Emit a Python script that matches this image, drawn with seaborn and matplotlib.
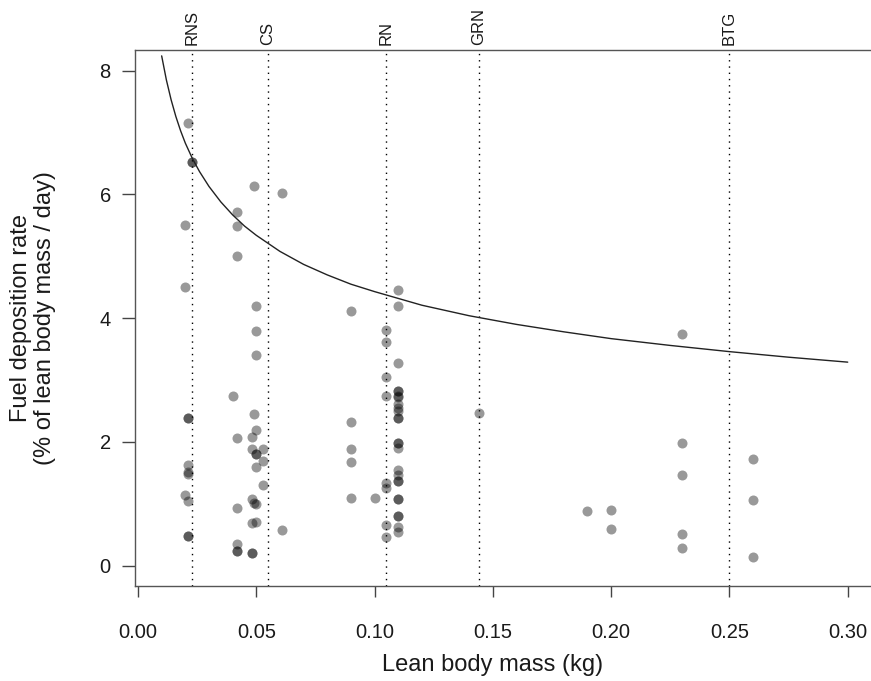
import matplotlib
matplotlib.use("Agg")
import matplotlib.pyplot as plt
import matplotlib.transforms as mtransforms
import seaborn as sns
import pandas as pd

# ---- data ----
mass = [
    # RNS group
    0.021, 0.023, 0.023, 0.020, 0.020, 0.021, 0.021, 0.021, 0.021, 0.021, 0.020, 0.021, 0.021, 0.021,
    # CS group
    0.049, 0.061, 0.042, 0.042, 0.042, 0.050, 0.050, 0.050, 0.040, 0.049, 0.050, 0.042, 0.048, 0.048,
    0.053, 0.050, 0.050, 0.053, 0.050, 0.053, 0.042, 0.048, 0.049, 0.050, 0.048, 0.050, 0.061, 0.042,
    0.042, 0.042, 0.048, 0.048,
    # RN group
    0.090, 0.090, 0.090, 0.090, 0.090, 0.100,
    0.105, 0.105, 0.105, 0.105, 0.105, 0.105, 0.105, 0.105,
    0.110, 0.110, 0.110, 0.110, 0.110, 0.110, 0.110, 0.110, 0.110, 0.110, 0.110, 0.110, 0.110,
    0.110, 0.110, 0.110, 0.110, 0.110, 0.110, 0.110, 0.110, 0.110, 0.110, 0.110, 0.110,
    # larger birds
    0.144, 0.190, 0.200, 0.200, 0.230, 0.230, 0.230, 0.230, 0.230, 0.260, 0.260, 0.260,
]
rate = [
    7.15, 6.53, 6.53, 5.51, 4.50, 2.38, 2.38, 1.62, 1.52, 1.49, 1.15, 1.05, 0.48, 0.48,
    6.13, 6.03, 5.72, 5.49, 5.00, 4.20, 3.80, 3.40, 2.75, 2.45, 2.20, 2.07, 2.08, 1.88,
    1.89, 1.80, 1.80, 1.70, 1.60, 1.31, 0.94, 1.08, 1.01, 1.00, 0.69, 0.71, 0.57, 0.35,
    0.23, 0.23, 0.20, 0.20,
    4.11, 2.33, 1.89, 1.67, 1.10, 1.10,
    3.81, 3.62, 3.05, 2.75, 1.33, 1.25, 0.66, 0.47,
    4.45, 4.19, 3.27, 2.82, 2.82, 2.74, 2.72, 2.62, 2.55, 2.50, 2.38, 2.38, 1.99,
    1.99, 1.91, 1.55, 1.47, 1.37, 1.37, 1.08, 1.08, 0.81, 0.81, 0.63, 0.54,
    2.47, 0.88, 0.90, 0.59, 3.75, 1.99, 1.46, 0.51, 0.29, 1.72, 1.07, 0.14,
]

curve_x = [0.010, 0.012, 0.014, 0.016, 0.018, 0.020, 0.023, 0.026, 0.030, 0.035, 0.040,
           0.045, 0.050, 0.060, 0.070, 0.080, 0.090, 0.100, 0.120, 0.140, 0.160, 0.180,
           0.200, 0.225, 0.250, 0.275, 0.300]
curve_y = [8.24, 7.85, 7.53, 7.26, 7.03, 6.83, 6.58, 6.37, 6.13, 5.88, 5.67,
           5.49, 5.34, 5.08, 4.87, 4.70, 4.55, 4.43, 4.21, 4.04, 3.90, 3.78,
           3.67, 3.56, 3.46, 3.37, 3.29]

ref_x = [0.023, 0.055, 0.105, 0.144, 0.250]
ref_labels = ["RNS", "CS", "RN", "GRN", "BTG"]

x_ticks = [0.00, 0.05, 0.10, 0.15, 0.20, 0.25, 0.30]
x_tick_labels = ["0.00", "0.05", "0.10", "0.15", "0.20", "0.25", "0.30"]
y_ticks = [0, 2, 4, 6, 8]
y_tick_labels = ["0", "2", "4", "6", "8"]

# ---- style ----
sns.set_style("white")
plt.rcParams["font.family"] = ["Liberation Sans", "DejaVu Sans"]

W, H = 871, 681
fig = plt.figure(figsize=(W / 100, H / 100), dpi=100)
ax_left, ax_right, ax_top, ax_bottom = 135, 900, 50, 586
ax = fig.add_axes([ax_left / W, 1 - ax_bottom / H, (ax_right - ax_left) / W, (ax_bottom - ax_top) / H])

df = pd.DataFrame({"mass": mass, "rate": rate})
sns.scatterplot(data=df, x="mass", y="rate", color="black", alpha=0.4, s=52,
                linewidth=0, ax=ax, zorder=3)

cdf = pd.DataFrame({"x": curve_x, "y": curve_y})
sns.lineplot(data=cdf, x="x", y="y", color="#222222", lw=1.0, ax=ax,
             estimator=None, sort=False, zorder=4)

for xv in ref_x:
    ax.axvline(xv, color="black", lw=1.0, ls=(0, (1, 3.5)), zorder=2)

trans = mtransforms.blended_transform_factory(ax.transData, ax.transAxes)
for xv, lab in zip(ref_x, ref_labels):
    ax.text(xv, 1.01, lab, transform=trans, rotation=90, ha="center", va="bottom",
            fontsize=12, color="#1a1a1a")

ax.set_xlim(-0.00127, 0.3221)
ax.set_ylim(-0.328, 8.335)
ax.set_xticks(x_ticks)
ax.set_xticklabels(x_tick_labels)
ax.set_yticks(y_ticks)
ax.set_yticklabels(y_tick_labels)
ax.tick_params(axis="x", direction="out", length=8, width=1, pad=19, labelsize=14.5,
               color="#444444", labelcolor="#1a1a1a", bottom=True)
ax.tick_params(axis="y", direction="out", length=9.4, width=1, pad=8, labelsize=14.5,
               color="#444444", labelcolor="#1a1a1a", left=True)

for sp in ax.spines.values():
    sp.set_visible(True)
    sp.set_color("#555555")
    sp.set_linewidth(1.0)

ax.set_xlabel("Lean body mass (kg)", fontsize=17, color="#1a1a1a")
ax.xaxis.label.set_va("center")
ax.xaxis.set_label_coords((493 - ax_left) / (ax_right - ax_left), -(665 - ax_bottom) / (ax_bottom - ax_top))
ax.set_ylabel("Fuel deposition rate\n(% of lean body mass / day)", fontsize=17,
              color="#1a1a1a", linespacing=1.1)
ax.yaxis.label.set_va("center")
ax.yaxis.set_label_coords((33 - ax_left) / (ax_right - ax_left), (ax_bottom - 318) / (ax_bottom - ax_top))

fig.savefig("out.png", dpi=100)
